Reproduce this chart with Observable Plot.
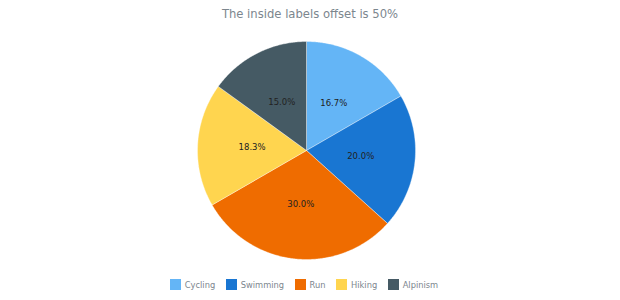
<!DOCTYPE html>
<html>
<head>
<meta charset="utf-8">
<script src="https://cdn.jsdelivr.net/npm/d3@7"></script>
<script src="https://cdn.jsdelivr.net/npm/@observablehq/plot@0.6"></script>
<style>
  html, body { margin: 0; padding: 0; background: #fff; }
  body { width: 620px; height: 300px; overflow: hidden; font-family: "DejaVu Sans", sans-serif; }
  #title { height: 30px; line-height: 28px; text-align: center; font-size: 11.6px; color: #7c868e; }
  #chart svg { display: block; }
  #legend { display: flex; justify-content: center; align-items: center; height: 29px; font-size: 8.3px; color: #7c868e; gap: 10.5px; padding-right: 12px; }
  .item { display: flex; align-items: center; gap: 4px; }
  .sw { width: 11px; height: 11px; display: inline-block; }
</style>
</head>
<body>
<div id="title">The inside labels offset is 50%</div>
<div id="chart"></div>
<div id="legend"></div>
<script>
const categories = ["Cycling", "Swimming", "Run", "Hiking", "Alpinism"];
const values = [10, 12, 18, 11, 9];
const colors = ["#64b5f6", "#1976d2", "#ef6c00", "#ffd54f", "#455a64"];
const labelOffset = 0.5;

const W = 620, H = 240, R = 109, CX = 306, CY = 120;

const arcs = d3.pie().sort(null).value(d => d)(values);
const total = d3.sum(values);

// polygon points for each slice, in unit coordinates
const slicePts = [];
arcs.forEach((a, i) => {
  const n = Math.max(8, Math.ceil((a.endAngle - a.startAngle) / 0.01));
  slicePts.push({name: categories[i], x: 0, y: 0});
  for (let k = 0; k <= n; k++) {
    const t = a.startAngle + (a.endAngle - a.startAngle) * k / n;
    slicePts.push({name: categories[i], x: Math.sin(t), y: Math.cos(t)});
  }
  slicePts.push({name: categories[i], x: 0, y: 0});
});

const labels = arcs.map((a, i) => {
  const m = (a.startAngle + a.endAngle) / 2;
  return {name: categories[i], x: labelOffset * Math.sin(m), y: labelOffset * Math.cos(m),
          text: (values[i] / total * 100).toFixed(1) + "%"};
});

const chart = Plot.plot({
  width: W, height: H,
  margin: 0,
  x: {domain: [-CX / R, (W - CX) / R], axis: null},
  y: {domain: [-(H - CY) / R, CY / R], axis: null},
  color: {domain: categories, range: colors},
  style: {fontFamily: "DejaVu Sans, sans-serif"},
  marks: [
    Plot.line(slicePts, {x: "x", y: "y", z: "name", fill: "name", stroke: "white", strokeWidth: 0.6, strokeOpacity: 0.6, curve: "linear"}),
    Plot.text(labels, {x: "x", y: "y", text: "text", fill: "#222", fontSize: 8.5})
  ]
});
document.getElementById("chart").append(chart);

const lg = document.getElementById("legend");
categories.forEach((c, i) => {
  const it = document.createElement("div");
  it.className = "item";
  const sw = document.createElement("span");
  sw.className = "sw";
  sw.style.background = colors[i];
  const tx = document.createElement("span");
  tx.textContent = c;
  it.append(sw, tx);
  lg.append(it);
});
</script>
</body>
</html>
